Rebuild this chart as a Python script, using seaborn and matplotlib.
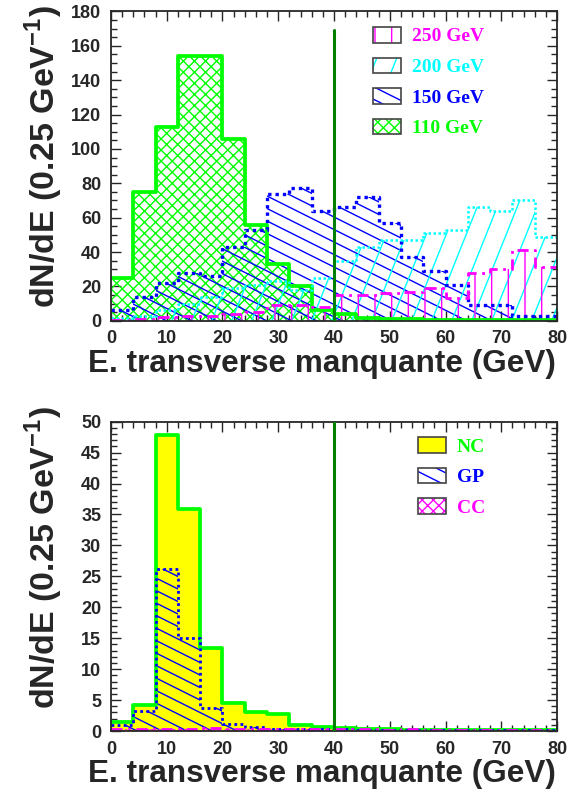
import warnings
import numpy as np
import seaborn as sns
import matplotlib.pyplot as plt
import matplotlib.hatch as mhatch
from matplotlib.path import Path
from matplotlib.patches import Rectangle
from matplotlib.ticker import MultipleLocator

warnings.filterwarnings('ignore')

# bins of 4 GeV in missing transverse energy
bin_edges = [0, 4, 8, 12, 16, 20, 24, 28, 32, 36, 40, 44, 48, 52, 56, 60, 64, 68, 72, 76, 80]

# top panel: signal for several masses
h110 = [25, 75, 113, 154, 154, 106, 56, 33, 20, 6, 4, 1.5, 1, 0.8, 0.5, 0.5, 0.3, 0.3, 0.3, 0.3]
h150 = [6, 14, 22, 28, 26, 43, 53, 74, 77, 64, 66, 72, 57, 37, 29, 21, 9, 9, 2.5, 2.5]
h200 = [1.5, 3, 6, 10, 14, 19, 21, 23, 18, 25, 35, 43, 47, 47, 51, 53, 66, 64, 70, 49]
h250 = [0.5, 1, 2, 3, 3, 4, 5, 9, 9, 8, 15, 15, 16, 17, 19, 13, 28, 30, 41, 31]

# bottom panel: backgrounds
nc = [1.4, 4.2, 47.9, 35.9, 13.4, 4.6, 3.1, 2.8, 1.0, 0.7, 0.5, 0.3, 0.3, 0.2, 0.2, 0.2, 0.2, 0.2, 0.2, 0.2]
gp = [0.9, 3.3, 26.2, 15.0, 3.8, 1.2, 0.6, 0.4, 0.3, 0.3, 0.3, 0.2, 0.2, 0.2, 0.2, 0.2, 0.2, 0.2, 0.2, 0.2]
cc = [0.3, 0.3, 0.4, 0.4, 0.5, 0.4, 0.3, 0.3, 0.3, 0.3, 0.3, 0.3, 0.2, 0.3, 0.2, 0.2, 0.2, 0.2, 0.2, 0.2]

cut = 40
cut_top = [169, 50]

green, blue, cyan, magenta = '#00ff00', '#0000ff', '#00ffff', '#ff00ff'
yellow, darkgreen = '#ffff00', '#008000'


# ROOT-like hatches at non-45 degree angles: 'z' shallow falling, 'k' steep rising
class SlopedHatch(mhatch.HatchPatternBase):
    def __init__(self, hatch, density):
        self.shallow = [k / 8 for k in range(-1, 14)] if 'z' in hatch else []
        self.steep = [k / 5 for k in range(-3, 6)] if 'k' in hatch else []
        self.num_vertices = 2 * (len(self.shallow) + len(self.steep))

    def set_vertices_and_codes(self, vertices, codes):
        i = 0
        for c in self.shallow:
            vertices[i] = (-0.2, c + 0.1)
            vertices[i + 1] = (1.2, c - 0.6)
            i += 2
        for c in self.steep:
            vertices[i] = (c - 0.08, -0.2)
            vertices[i + 1] = (c + 0.48, 1.2)
            i += 2
        codes[0::2] = Path.MOVETO
        codes[1::2] = Path.LINETO


try:
    mhatch._hatch_types.append(SlopedHatch)
    blue_hatch, cyan_hatch = 'z', 'k'
except AttributeError:
    blue_hatch, cyan_hatch = '\\\\', '//'

sns.set_style('ticks')
plt.rcParams['font.family'] = ['Liberation Sans', 'DejaVu Sans']
plt.rcParams['font.weight'] = 'bold'
plt.rcParams['mathtext.fontset'] = 'custom'
plt.rcParams['mathtext.bf'] = 'Liberation Sans:bold'
plt.rcParams['hatch.linewidth'] = 1.0

centres = [(a + b) / 2 for a, b in zip(bin_edges[:-1], bin_edges[1:])]


def draw(ax, vals, hatch, hcolor, lcolor, ls, lw, face='none'):
    # hatch / fill
    sns.histplot(x=centres, weights=vals, bins=bin_edges, element='bars', fill=True,
                 facecolor=face, edgecolor=hcolor, hatch=hatch, linewidth=0,
                 alpha=1, ax=ax)
    # outline
    sns.histplot(x=centres, weights=vals, bins=bin_edges, element='step', fill=False,
                 color=lcolor, linestyle=ls, linewidth=lw, alpha=1, ax=ax)


fig = plt.figure(figsize=(5.69, 7.92), dpi=100)
ax1 = fig.add_axes([0.195, 0.595, 0.784, 0.3905])
ax2 = fig.add_axes([0.195, 0.077, 0.784, 0.3906])

draw(ax1, h110, 'xxx', green, green, '-', 2.7)
draw(ax1, h150, blue_hatch, blue, blue, (0, (1, 1.2)), 2.4)
draw(ax1, h200, cyan_hatch, cyan, cyan, (0, (1, 1)), 1.8)
draw(ax1, h250, '|', magenta, magenta, (0, (4, 2, 1, 2)), 2.0)

draw(ax2, nc, '', yellow, green, '-', 2.7, face=yellow)
draw(ax2, gp, blue_hatch, blue, blue, (0, (1, 1.2)), 2.0)
draw(ax2, cc, 'xxx', magenta, magenta, (0, (4, 2, 1, 2)), 2.0)

panels = [(ax1, 180, 20, 5, cut_top[0], 0.53), (ax2, 50, 5, 1, cut_top[1], 0.56)]
for ax, ymax, ymaj, ymin, top, ylab_y in panels:
    ax.axvline(cut, ymin=0, ymax=top / ymax, color=darkgreen, linewidth=2.2, zorder=5)
    ax.set_xlim(0, 80)
    ax.set_ylim(0, ymax)
    ax.xaxis.set_major_locator(MultipleLocator(10))
    ax.xaxis.set_minor_locator(MultipleLocator(2))
    ax.yaxis.set_major_locator(MultipleLocator(ymaj))
    ax.yaxis.set_minor_locator(MultipleLocator(ymin))
    ax.tick_params(which='both', direction='in', top=True, right=True, labelsize=13, pad=7)
    ax.tick_params(which='major', length=7, width=1)
    ax.tick_params(which='minor', length=4, width=1)
    for lab in ax.get_xticklabels() + ax.get_yticklabels():
        lab.set_fontweight('bold')
    for sp in ax.spines.values():
        sp.set_linewidth(1.3)
    ax.set_xlabel('E. transverse manquante (GeV)', fontsize=22.7, fontweight='bold', ha='right')
    ax.xaxis.set_label_coords(0.997, -0.09)
    ax.set_ylabel(r'dN/dE (0.25 GeV$^{\mathbf{-1}}$)', fontsize=24.5, fontweight='bold')
    ax.yaxis.set_label_coords(-0.103, ylab_y)


def handle(hatch, hcolor, face='white'):
    return (Rectangle((0, 0), 1, 1, facecolor=face, edgecolor=hcolor, hatch=hatch, linewidth=0),
            Rectangle((0, 0), 1, 1, facecolor='none', edgecolor='#444444', linewidth=1.2))


leg_font = {'family': 'Liberation Serif', 'weight': 'bold', 'size': 14}

top_labels = ['250 GeV', '200 GeV', '150 GeV', '110 GeV']
top_colors = [magenta, cyan, blue, green]
top_handles = [handle('|', magenta), handle(cyan_hatch, cyan), handle(blue_hatch, blue),
               handle('xxx', green)]
ax1.legend(top_handles, top_labels, loc='upper left', bbox_to_anchor=(0.57, 0.975), frameon=False,
           prop=leg_font, labelcolor=top_colors, handlelength=1.45, handleheight=0.85,
           handletextpad=0.55, labelspacing=0.62, borderaxespad=0)

bot_labels = ['NC', 'GP', 'CC']
bot_colors = [green, blue, magenta]
bot_handles = [handle('', yellow, face=yellow), handle(blue_hatch, blue), handle('xxx', magenta)]
ax2.legend(bot_handles, bot_labels, loc='upper left', bbox_to_anchor=(0.67, 0.975), frameon=False,
           prop=leg_font, labelcolor=bot_colors, handlelength=1.45, handleheight=0.85,
           handletextpad=0.55, labelspacing=0.62, borderaxespad=0)

fig.savefig('out.png', dpi=100)
